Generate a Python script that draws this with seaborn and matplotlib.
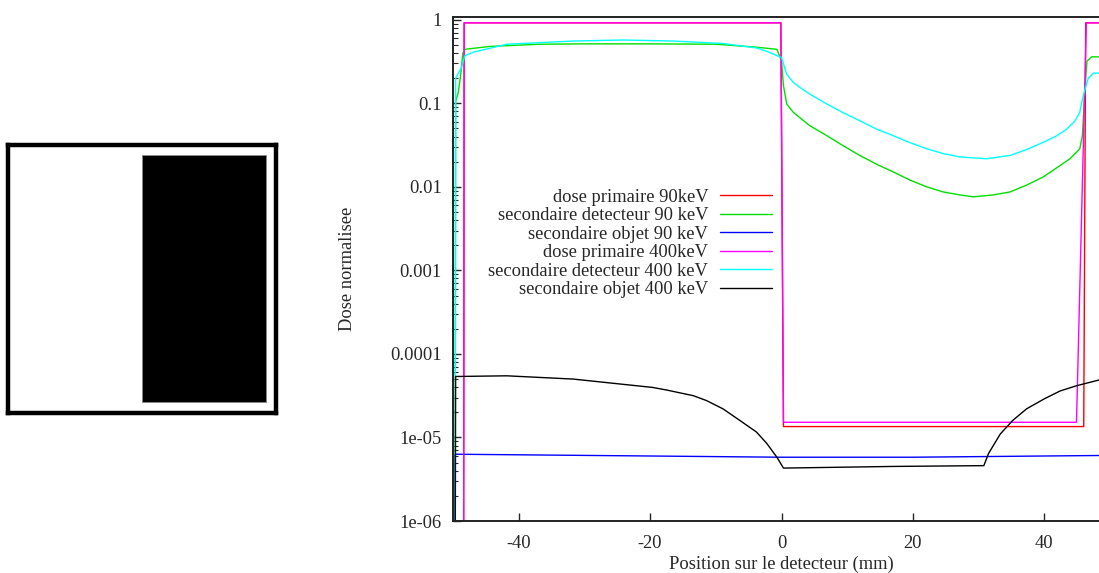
import numpy as np
import pandas as pd
import matplotlib
matplotlib.use("Agg")
import matplotlib.pyplot as plt
from matplotlib.patches import Rectangle
from matplotlib.lines import Line2D
from matplotlib.ticker import LogLocator, NullFormatter, FixedLocator, FixedFormatter
import seaborn as sns

# --- data ---
x_prim_90 = [-50, -48.4, -48.3, -0.1, 0.3, 46.0, 46.3, 50]
dose_prim_90 = [1e-8, 1e-8, 0.92, 0.92, 1.35e-5, 1.35e-5, 0.92, 0.92]

x_det_90 = [-49.7, -49.6, -49.2, -48.8, -48.5, -48.2, -44.4, -36.8, -30, -20, -10, -3.8, -0.7,
            0.0, 0.3, 0.8, 1.8, 4.3, 6.9, 9.4, 11.9, 14.5, 17, 19.6, 22.1, 24.6, 27.2, 29.2,
            32.2, 34.8, 37.3, 39.8, 42.4, 43.9, 44.9, 45.4, 45.8, 46.2, 46.5, 47.2, 50]
dose_det_90 = [1e-8, 0.105, 0.135, 0.23, 0.40, 0.443, 0.48, 0.51, 0.515, 0.515, 0.51, 0.47, 0.443,
               0.32, 0.162, 0.098, 0.078, 0.054, 0.041, 0.031, 0.0238, 0.0186, 0.0151, 0.012,
               0.010, 0.0087, 0.008, 0.0076, 0.008, 0.0087, 0.0105, 0.0131, 0.018, 0.0217,
               0.026, 0.0286, 0.041, 0.162, 0.32, 0.36, 0.36]

x_obj_90 = [-49.8, -49.7, -40, -20, 0, 20, 40, 50]
dose_obj_90 = [1e-8, 6.3e-6, 6.2e-6, 6.0e-6, 5.8e-6, 5.8e-6, 6.0e-6, 6.1e-6]

x_prim_400 = [-50, -48.4, -48.3, -0.1, 0.3, 44.9, 46.4, 50]
dose_prim_400 = [1e-8, 1e-8, 0.92, 0.92, 1.52e-5, 1.52e-5, 0.92, 0.92]

x_det_400 = [-49.7, -49.6, -48.7, -48.2, -46.9, -41.8, -31.7, -24.1, -16.5, -8.9, -3.8, -2.25,
             0.0, 0.8, 1.8, 2.8, 4.3, 6.9, 9.4, 11.9, 14.5, 17, 19.6, 22.1, 24.6, 27.2, 29.7,
             31.2, 34.8, 37.3, 39.8, 41.9, 43.4, 44.7, 45.4, 45.7, 46.2, 46.7, 47.5, 50]
dose_det_400 = [1e-8, 0.2, 0.27, 0.37, 0.41, 0.51, 0.557, 0.573, 0.557, 0.52, 0.46, 0.42,
                0.353, 0.223, 0.178, 0.155, 0.129, 0.098, 0.077, 0.062, 0.049, 0.041, 0.0337,
                0.0286, 0.025, 0.0228, 0.0221, 0.0217, 0.0238, 0.028, 0.034, 0.041, 0.049,
                0.062, 0.078, 0.103, 0.148, 0.2, 0.23, 0.23]

x_obj_400 = [-49.7, -49.6, -41.8, -31.7, -19.6, -17.5, -13.4, -11.4, -8.9, -6.3, -3.8, -2.25,
             -0.7, 0.3, 17, 30.8, 31.5, 33.3, 35.2, 37.3, 40, 42.4, 44.9, 48.3, 50]
dose_obj_400 = [1e-8, 5.37e-5, 5.47e-5, 5.0e-5, 3.97e-5, 3.7e-5, 3.16e-5, 2.76e-5, 2.2e-5,
                1.59e-5, 1.16e-5, 8.5e-6, 5.8e-6, 4.3e-6, 4.5e-6, 4.6e-6, 6.4e-6, 1.1e-5,
                1.6e-5, 2.2e-5, 2.9e-5, 3.6e-5, 4.16e-5, 4.87e-5, 5.1e-5]

labels = ["dose primaire 90keV", "secondaire detecteur 90 keV", "secondaire objet 90 keV",
          "dose primaire 400keV", "secondaire detecteur 400 keV", "secondaire objet 400 keV"]
colors = ["#ff0000", "#00e000", "#0000ff", "#ff00ff", "#00ffff", "#000000"]
y_ticks = [1e-6, 1e-5, 1e-4, 1e-3, 1e-2, 1e-1, 1]
y_tick_labels = ["1e-06", "1e-05", "0.0001", "0.001", "0.01", "0.1", "1"]
x_ticks = [-40, -20, 0, 20, 40]

series = [(x_prim_90, dose_prim_90), (x_det_90, dose_det_90), (x_obj_90, dose_obj_90),
          (x_prim_400, dose_prim_400), (x_det_400, dose_det_400), (x_obj_400, dose_obj_400)]
frames = []
for lab, (xs, ys) in zip(labels, series):
    frames.append(pd.DataFrame({"pos": xs, "dose": ys, "serie": lab}))
df = pd.concat(frames, ignore_index=True)

sns.set_style("ticks")
plt.rcParams['font.family'] = ['Liberation Serif', 'DejaVu Serif']
FS = 13.3

W, H = 1099, 573
fig = plt.figure(figsize=(W / 100, H / 100), dpi=100)

# main plot (its right edge runs past the picture, as in the reference)
ax = fig.add_axes([453 / W, (H - 521) / H, (1110 - 453) / W, (521 - 17) / H])
for lab, col in zip(labels, colors):
    sns.lineplot(data=df[df["serie"] == lab], x="pos", y="dose", color=col,
                 estimator=None, sort=False, lw=1.0, ax=ax, legend=False)

ax.set_yscale("log")
ax.set_xlim(-50, 50)
ax.set_ylim(1e-6, 1.08)
ax.yaxis.set_major_locator(FixedLocator(y_ticks))
ax.yaxis.set_major_formatter(FixedFormatter(y_tick_labels))
ax.yaxis.set_minor_locator(LogLocator(base=10, subs=np.arange(2, 10)))
ax.yaxis.set_minor_formatter(NullFormatter())
ax.set_xticks(x_ticks)
ax.set_xticklabels([str(v) for v in x_ticks])
ax.tick_params(axis="both", which="major", direction="in", length=6, width=1, labelsize=FS)
ax.tick_params(axis="y", which="major", pad=8)
ax.tick_params(axis="x", which="major", pad=10)
ax.tick_params(axis="y", which="minor", direction="in", length=3.5, width=0.8)
for sp in ax.spines.values():
    sp.set_linewidth(1.4)
    sp.set_color("#222222")
ax.set_xlabel("Position sur le detecteur (mm)", fontsize=FS, labelpad=2.5)
ax.set_ylabel("Dose normalisee", fontsize=FS)
ax.yaxis.set_label_coords(-0.148, 0.5)

handles = [Line2D([], [], color=c, lw=1.0) for c in colors]
fig.legend(handles, labels, loc="upper right", bbox_to_anchor=(772 / W, (H - 188.5) / H),
           markerfirst=False, frameon=False, fontsize=FS, handlelength=2.8,
           handletextpad=0.65, labelspacing=0.085, borderpad=0, borderaxespad=0)

# little picture on the left: white field with a black block
ax_img = fig.add_axes([8 / W, (H - 413) / H, 268 / W, 268 / H])
ax_img.set_xlim(0, 1)
ax_img.set_ylim(0, 1)
ax_img.add_patch(Rectangle((0.5, 0.041), 0.463, 0.922, facecolor="black",
                           edgecolor="#888888", lw=0.6))
ax_img.set_xticks([])
ax_img.set_yticks([])
for sp in ax_img.spines.values():
    sp.set_linewidth(3.2)
    sp.set_color("black")

fig.savefig("out.png", dpi=100)
